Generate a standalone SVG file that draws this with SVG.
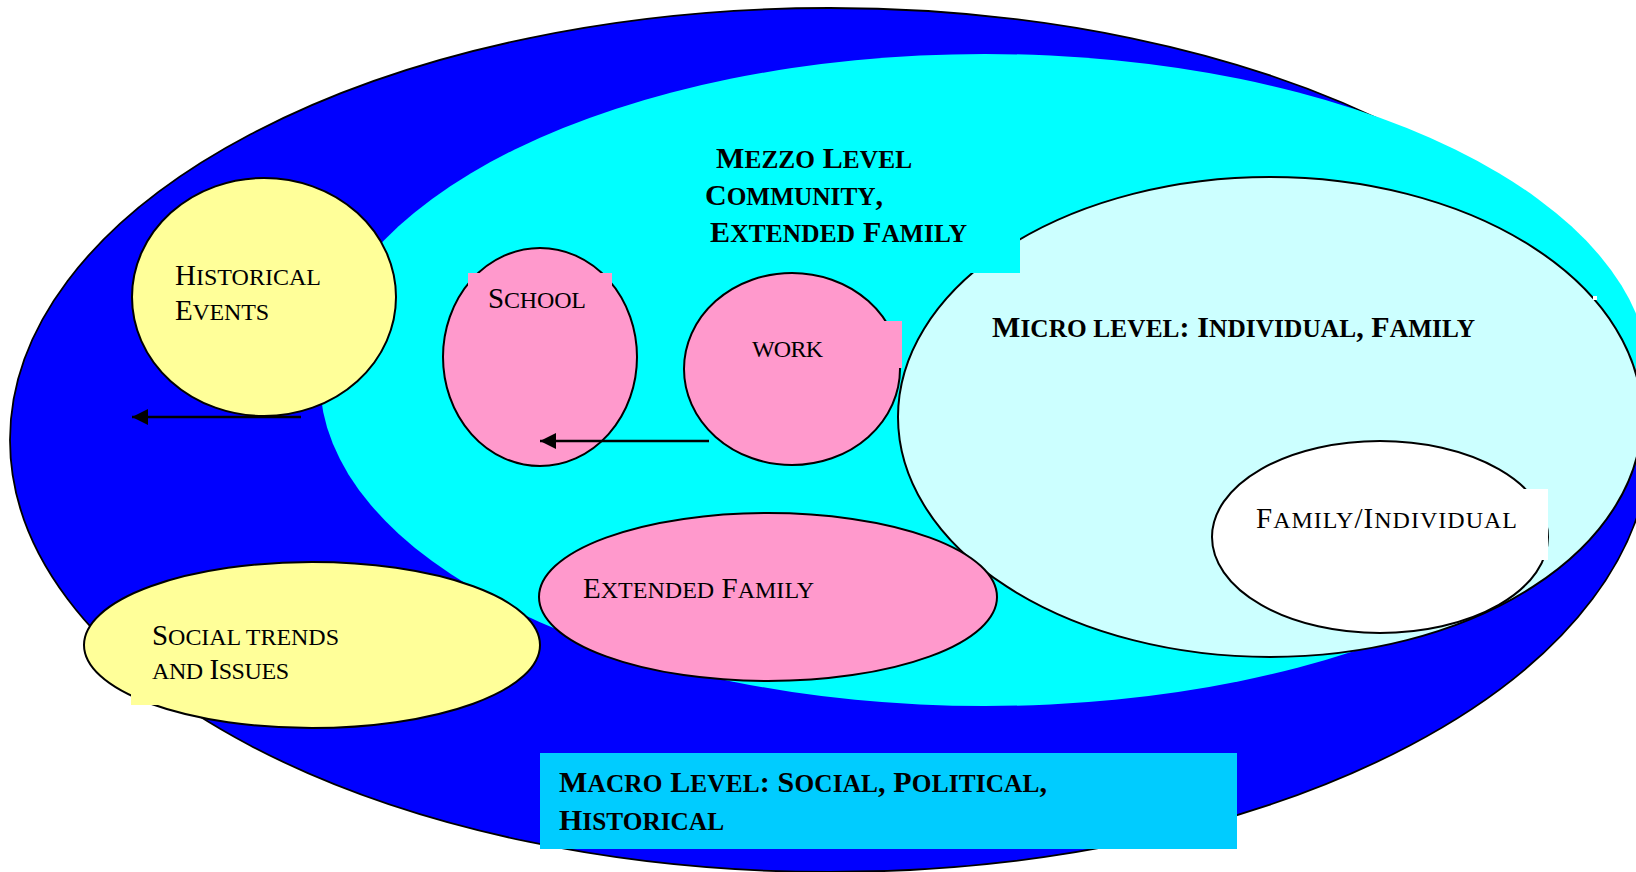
<svg xmlns="http://www.w3.org/2000/svg" width="1636" height="872" viewBox="0 0 1636 872">
<style>
text{font-family:"Liberation Serif","Times New Roman",serif;fill:#000}
.r{font-size:29px}
.rs{font-size:24px}
.b{font-size:30px;font-weight:700}
.bs{font-size:25.3px}
.ol{stroke:#000;stroke-width:2}
.pink{fill:#FF99CC}
.yel{fill:#FFFF99}
.conn{stroke:#000;stroke-width:2.6;fill:none}
</style>
<defs>
<marker id="ah" markerUnits="userSpaceOnUse" markerWidth="17" markerHeight="17" refX="16" refY="8" orient="auto">
<path d="M0,0 L16,8 L0,16 z" fill="#000"/>
</marker>
</defs>
<rect width="1636" height="872" fill="#fff"/>
<g id="macro">
<ellipse cx="830" cy="440" rx="820" ry="432" fill="#0000FF" stroke="#000" stroke-width="1.8"/>
</g>
<g id="mezzo">
<ellipse cx="985" cy="380" rx="665" ry="326" fill="#00FFFF"/>
</g>
<g id="historical-events">
<ellipse cx="264" cy="297" rx="132" ry="119" class="yel ol"/>
<text x="175" y="285" class="r" textLength="146" lengthAdjust="spacing">H<tspan class="rs">ISTORICAL</tspan></text>
<text x="175" y="320" class="r" textLength="94" lengthAdjust="spacing">E<tspan class="rs">VENTS</tspan></text>
</g>
<g id="micro">
<ellipse cx="1270" cy="417" rx="372" ry="240" fill="#CCFFFF" class="ol"/>
<rect x="1593" y="296" width="4" height="4" fill="#fff"/>
<text x="992" y="337" class="b" textLength="483" lengthAdjust="spacing">M<tspan class="bs">ICRO LEVEL</tspan>: I<tspan class="bs">NDIVIDUAL</tspan>, F<tspan class="bs">AMILY</tspan></text>
</g>
<g id="mezzo-label">
<rect x="690" y="130" width="330" height="143" fill="#00FFFF"/>
<text x="716" y="168" class="b" textLength="196" lengthAdjust="spacing">M<tspan class="bs">EZZO</tspan> L<tspan class="bs">EVEL</tspan></text>
<text x="705" y="205" class="b" textLength="178" lengthAdjust="spacing">C<tspan class="bs">OMMUNITY</tspan>,</text>
<text x="710" y="242" class="b" textLength="257" lengthAdjust="spacing">E<tspan class="bs">XTENDED</tspan> F<tspan class="bs">AMILY</tspan></text>
</g>
<g id="school">
<ellipse cx="540" cy="357" rx="97" ry="109" class="pink ol"/>
<rect x="468" y="273" width="144" height="28" class="pink"/>
<text x="488" y="308" class="r" textLength="98" lengthAdjust="spacing">S<tspan class="rs">CHOOL</tspan></text>
</g>
<g id="work">
<ellipse cx="792" cy="369" rx="108" ry="96" class="pink ol"/>
<rect x="730" y="321" width="172" height="47" class="pink"/>
<text x="752" y="357" class="r" textLength="71" lengthAdjust="spacing"><tspan class="rs">WORK</tspan></text>
</g>
<g id="extended-family">
<ellipse cx="768" cy="597" rx="229" ry="84" class="pink ol"/>
<text x="583" y="598" class="r" textLength="231" lengthAdjust="spacing">E<tspan class="rs">XTENDED</tspan> F<tspan class="rs">AMILY</tspan></text>
</g>
<g id="social-trends">
<ellipse cx="312" cy="645" rx="228" ry="83" class="yel ol"/>
<rect x="131" y="600" width="269" height="105" class="yel"/>
<text x="152" y="645" class="r" textLength="187" lengthAdjust="spacing">S<tspan class="rs">OCIAL TRENDS</tspan></text>
<text x="152" y="679" class="r" textLength="137" lengthAdjust="spacing"><tspan class="rs">AND</tspan> I<tspan class="rs">SSUES</tspan></text>
</g>
<g id="family-individual">
<ellipse cx="1380" cy="537" rx="168" ry="96" fill="#fff" class="ol"/>
<rect x="1250" y="489" width="298" height="71" fill="#fff"/>
<text x="1256" y="528" class="r" textLength="261" lengthAdjust="spacing">F<tspan class="rs">AMILY</tspan>/I<tspan class="rs">NDIVIDUAL</tspan></text>
</g>
<g id="macro-label">
<rect x="540" y="753" width="697" height="96" fill="#00CCFF"/>
<text x="559" y="792" class="b" textLength="488" lengthAdjust="spacing">M<tspan class="bs">ACRO</tspan> L<tspan class="bs">EVEL</tspan>: S<tspan class="bs">OCIAL</tspan>, P<tspan class="bs">OLITICAL</tspan>,</text>
<text x="559" y="830" class="b" textLength="165" lengthAdjust="spacing">H<tspan class="bs">ISTORICAL</tspan></text>
</g>
<g id="connectors">
<line x1="301" y1="417" x2="132" y2="417" class="conn" marker-end="url(#ah)"/>
<line x1="709" y1="441" x2="540" y2="441" class="conn" marker-end="url(#ah)"/>
</g>
</svg>
